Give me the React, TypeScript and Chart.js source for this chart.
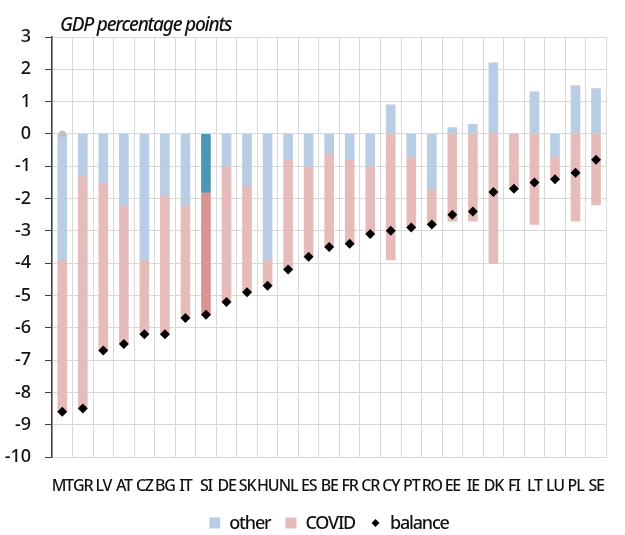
import { useEffect, useRef } from 'react';
import { Chart, registerables } from 'chart.js';

Chart.register(...registerables);

const FONT = "'Noto Sans', 'DejaVu Sans', sans-serif";

const countries = ['MT', 'GR', 'LV', 'AT', 'CZ', 'BG', 'IT', 'SI', 'DE', 'SK', 'HU', 'NL', 'ES', 'BE', 'FR', 'CR', 'CY', 'PT', 'RO', 'EE', 'IE', 'DK', 'FI', 'LT', 'LU', 'PL', 'SE'];

// contribution of non-COVID factors
const other = [-3.9, -1.3, -1.5, -2.2, -3.9, -1.9, -2.2, -1.8, -1.0, -1.6, -3.9, -0.8, -1.0, -0.6, -0.8, -1.0, 0.9, -0.7, -1.7, 0.2, 0.3, 2.2, 0.0, 1.3, -0.7, 1.5, 1.4];
// contribution of COVID-related measures
const covid = [-4.7, -7.2, -5.2, -4.3, -2.3, -4.3, -3.5, -3.8, -4.2, -3.3, -0.8, -3.4, -2.8, -2.9, -2.6, -2.1, -3.9, -2.2, -1.1, -2.7, -2.7, -4.0, -1.7, -2.8, -0.7, -2.7, -2.2];
// overall budget balance
const balance = [-8.6, -8.5, -6.7, -6.5, -6.2, -6.2, -5.7, -5.6, -5.2, -4.9, -4.7, -4.2, -3.8, -3.5, -3.4, -3.1, -3.0, -2.9, -2.8, -2.5, -2.4, -1.8, -1.7, -1.5, -1.4, -1.2, -0.8];
// small grey marker on the zero line
const zeroMarker = [0, null, null, null, null, null, null, null, null, null, null, null, null, null, null, null, null, null, null, null, null, null, null, null, null, null, null];

const legendOrder = ['other', 'COVID', 'balance'];

const yMin = -10;
const yMax = 3;
const highlighted = 'SI';

const OTHER = '#b9cde5';
const OTHER_HI = '#4f97b6';
const COVID = '#e6bcbb';
const COVID_HI = '#d99594';

// the x labels sit on a layer above the datasets; give that pass tighter tracking
const trackingPlugin = {
  id: 'tracking',
  afterDatasetsDraw(chart: any) {
    chart.ctx.letterSpacing = '-1.2px';
  },
  afterDraw(chart: any) {
    chart.ctx.letterSpacing = '0px';
  },
};

const titlePlugin = {
  id: 'cornerTitle',
  afterDraw(chart: any) {
    const { ctx, chartArea } = chart;
    ctx.save();
    ctx.letterSpacing = '-1.2px';
    ctx.font = `italic 500 19px ${FONT}`;
    ctx.fillStyle = '#111';
    ctx.textAlign = 'left';
    ctx.textBaseline = 'alphabetic';
    ctx.fillText('GDP percentage points', chartArea.left + 8, chartArea.top - 6);
    ctx.restore();
  },
};

const legendPlugin = {
  id: 'bottomLegend',
  afterDraw(chart: any) {
    const { ctx } = chart;
    const items = legendOrder.map((name) => chart.data.datasets.find((d: any) => d.label === name));
    const fontSize = 18;
    const box = 11;
    const gapText = 9;
    const gapItem = 15;
    ctx.save();
    ctx.letterSpacing = '-1.2px';
    ctx.font = `500 ${fontSize}px ${FONT}`;
    const widths = items.map((d: any) => box + gapText + ctx.measureText(d.label).width);
    const total = widths.reduce((a: number, b: number) => a + b, 0) + gapItem * (items.length - 1);
    let x = 329 - total / 2;
    const y = 523;
    ctx.textBaseline = 'middle';
    ctx.textAlign = 'left';
    items.forEach((d: any, i: number) => {
      if (d.type === 'line') {
        const cx = x + box / 2;
        ctx.fillStyle = '#000';
        ctx.beginPath();
        ctx.moveTo(cx - 4, y);
        ctx.lineTo(cx, y - 4);
        ctx.lineTo(cx + 4, y);
        ctx.lineTo(cx, y + 4);
        ctx.closePath();
        ctx.fill();
      } else {
        ctx.fillStyle = d.legendColor;
        ctx.fillRect(x, y - box / 2, box, box);
      }
      ctx.fillStyle = '#111';
      ctx.fillText(d.label, x + box + gapText, y + 1);
      x += widths[i] + gapItem;
    });
    ctx.restore();
  },
};

function ChartView() {
  const ref = useRef<HTMLCanvasElement | null>(null);

  useEffect(() => {
    if (!ref.current) return;
    const isHi = (c: string) => c === highlighted;
    const chart = new Chart(ref.current, {
      type: 'bar',
      data: {
        labels: countries,
        datasets: [
          {
            type: 'line',
            label: 'marker',
            data: zeroMarker as any,
            stack: 'marker',
            showLine: false,
            pointStyle: 'circle',
            pointRadius: 3.5,
            pointBackgroundColor: '#bfbfbf',
            pointBorderWidth: 0,
            order: 0,
          } as any,
          {
            type: 'line',
            label: 'balance',
            data: balance,
            stack: 'balance',
            showLine: false,
            pointStyle: 'rectRot',
            pointRadius: 5,
            pointBackgroundColor: '#000',
            pointBorderColor: '#000',
            pointBorderWidth: 0,
            order: 0,
          } as any,
          {
            label: 'other',
            data: other,
            stack: 'parts',
            backgroundColor: countries.map((c) => (isHi(c) ? OTHER_HI : OTHER)),
            borderWidth: 0,
            barThickness: 9,
            order: 1,
            legendColor: OTHER,
          } as any,
          {
            label: 'COVID',
            data: covid,
            stack: 'parts',
            backgroundColor: countries.map((c) => (isHi(c) ? COVID_HI : COVID)),
            borderWidth: 0,
            barThickness: 9,
            order: 1,
            legendColor: COVID,
          } as any,
        ],
      },
      options: {
        animation: false,
        responsive: false,
        layout: { padding: { top: 37, left: 0, right: 0, bottom: 0 } },
        plugins: {
          legend: { display: false },
          tooltip: { enabled: false },
          title: { display: false },
        },
        scales: {
          x: {
            stacked: true,
            offset: true,
            grid: { color: '#d9d9d9', lineWidth: 1, drawTicks: false, offset: true },
            border: { color: '#d9d9d9', width: 1 },
            ticks: {
              z: 1,
              autoSkip: false,
              maxRotation: 0,
              minRotation: 0,
              padding: 20,
              color: '#111',
              font: { family: FONT, size: 16, weight: '500' as any },
            },
            afterFit: (s: any) => {
              s.height = 78;
            },
          },
          y: {
            stacked: true,
            min: yMin,
            max: yMax,
            grid: { color: '#d9d9d9', lineWidth: 1, tickColor: '#404040', tickLength: 7 },
            border: { color: '#404040', width: 1.5 },
            ticks: {
              stepSize: 1,
              padding: 14,
              color: '#111',
              font: { family: FONT, size: 18, weight: '500' as any },
            },
            afterFit: (s: any) => {
              s.width = 52;
            },
          },
        },
      },
      plugins: [trackingPlugin, titlePlugin, legendPlugin],
    });
    return () => chart.destroy();
  }, []);

  return (
    <canvas
      ref={ref}
      width={625}
      height={535}
      style={{ position: 'fixed', left: 0, top: 0, width: 625, height: 535, display: 'block', background: '#fff' }}
    />
  );
}

export default function App() {
  return <ChartView />;
}
